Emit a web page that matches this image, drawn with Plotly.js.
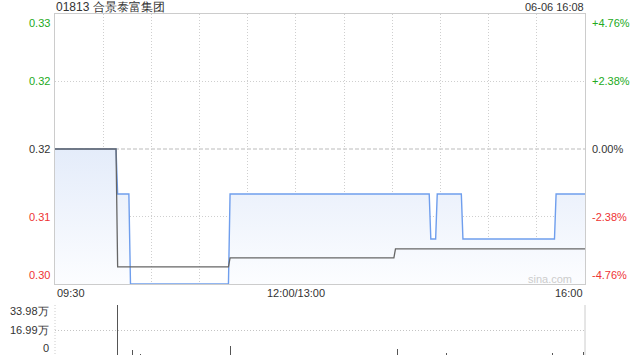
<!DOCTYPE html>
<html>
<head>
<meta charset="utf-8">
<script src="https://cdn.plot.ly/plotly-3.0.1.min.js"></script>
<style>html,body{margin:0;padding:0;background:#fff;}#chart{width:640px;height:360px;}</style>
</head>
<body>
<div id="chart"></div>
<script>
// ---- data (trading minutes since 09:30, lunch break removed) ----
const titleText = '01813 合景泰富集团';
const stampText = '06-06 16:08';
const prevClose = 0.315;
const priceT = [0, 38, 39, 46, 47, 108, 109, 233, 234, 237, 238, 253, 254, 311, 312, 330];
const priceV = [0.315, 0.315, 0.31, 0.31, 0.30, 0.30, 0.31, 0.31, 0.305, 0.305, 0.31, 0.31, 0.305, 0.305, 0.31, 0.31];
const avgT = [0, 38, 39, 108, 109, 211, 212, 330];
const avgV = [0.315, 0.315, 0.3019, 0.3019, 0.3029, 0.3029, 0.3039, 0.3039];
const volT = [39, 48, 53, 109, 213, 244, 310, 329];
const volV = [339800, 34000, 7000, 61000, 41000, 14000, 14000, 20000];
const xTickPos = [0, 150, 330];
const xTickText = ['09:30', '12:00/13:00', '16:00'];
const xGridPos = [30, 60, 90, 120, 150, 180, 210, 240, 270, 300];
const yTickVals = [0.33, 0.3225, 0.315, 0.3075, 0.30];
const yTickText = ['0.33', '0.32', '0.32', '0.31', '0.30'];
const pctText = ['+4.76%', '+2.38%', '0.00%', '-2.38%', '-4.76%'];
const volTickVals = [339800, 169900, 0];
const volTickText = ['33.98万', '16.99万', '0'];

const W = 640, H = 360;
const PL = 55, PR = 585, PT = 14, PB = 284, VT = 305, VB = 355;
const px = v => v / W, py = v => 1 - v / H;
const GREEN = '#22aa22', RED = '#ee3333', DARK = '#333333';
const FONT = 'Liberation Sans, Arial, sans-serif';

const traces = [
  {x: [0, 330], y: [0.30, 0.30], mode: 'lines', line: {width: 0, color: 'rgba(0,0,0,0)'},
   xaxis: 'x', yaxis: 'y', hoverinfo: 'skip', showlegend: false},
  {x: priceT, y: priceV, mode: 'lines', line: {width: 0, color: 'rgba(0,0,0,0)'},
   fill: 'tonexty', fillcolor: '#eef3fc',
   fillgradient: {type: 'vertical', start: 0.30, stop: 0.315,
     colorscale: [[0, 'rgba(252,253,255,1)'], [1, 'rgba(228,236,250,1)']]},
   xaxis: 'x', yaxis: 'y', hoverinfo: 'skip', showlegend: false},
  {x: priceT, y: priceV, mode: 'lines', line: {width: 1.4, color: '#6f9eed'},
   cliponaxis: false, xaxis: 'x', yaxis: 'y', showlegend: false},
  {x: avgT, y: avgV, mode: 'lines', line: {width: 1.3, color: '#666666'},
   cliponaxis: false, xaxis: 'x', yaxis: 'y', showlegend: false},
  {x: volT, y: volV, type: 'bar', width: 0.6, marker: {color: '#555555', line: {width: 0}},
   xaxis: 'x2', yaxis: 'y2', showlegend: false}
];

const annotations = [];
function ann(text, x, y, xanchor, yanchor, color, size, xref, yref) {
  annotations.push({text: text, x: x, y: y, xref: xref || 'paper', yref: yref || 'paper',
    xanchor: xanchor, yanchor: yanchor, showarrow: false,
    font: {family: FONT, size: size || 11, color: color || DARK}, borderpad: 0});
}
ann(titleText, px(PL), py(7), 'left', 'middle', DARK, 12);
ann(stampText, px(PR), py(7), 'right', 'middle', DARK, 11);
yTickVals.forEach((v, i) => {
  const ya = i === 0 ? 'top' : (i === yTickVals.length - 1 ? 'bottom' : 'middle');
  const col = v > prevClose ? GREEN : (v < prevClose ? RED : DARK);
  const yy = i === 0 ? py(PT + 1) : (i === yTickVals.length - 1 ? py(PB - 1) : null);
  annotations.push({text: yTickText[i], x: px(PL - 3), y: yy === null ? v : yy,
    xref: 'paper', yref: yy === null ? 'y' : 'paper', xanchor: 'right', yanchor: ya, showarrow: false,
    font: {family: FONT, size: 11, color: col}});
  annotations.push({text: pctText[i], x: px(PR + 5), y: yy === null ? v : yy,
    xref: 'paper', yref: yy === null ? 'y' : 'paper', xanchor: 'left', yanchor: ya, showarrow: false,
    font: {family: FONT, size: 11, color: col}});
});
xTickPos.forEach((v, i) => {
  const xa = i === 0 ? 'left' : (i === xTickPos.length - 1 ? 'right' : 'center');
  annotations.push({text: xTickText[i], x: v, y: py(293), xref: 'x', yref: 'paper',
    xanchor: xa, yanchor: 'middle', showarrow: false, font: {family: FONT, size: 11, color: DARK}});
});
volTickVals.forEach((v, i) => {
  const yy = i === 0 ? py(VT + 6) : (i === 1 ? py(329.5) : py(VB - 7));
  ann(volTickText[i], px(PL - 5), yy, 'right', 'middle', DARK, 11);
});
ann('sina.com', px(573), py(279), 'right', 'middle', '#cccccc', 11);

const shapes = [
  {type: 'line', xref: 'paper', yref: 'y', x0: px(PL), x1: px(PR), y0: prevClose, y1: prevClose,
   line: {color: '#bbbbbb', width: 1, dash: '4px,2px'}, layer: 'below'},
  {type: 'line', xref: 'paper', yref: 'paper', x0: px(PR), x1: px(PR), y0: py(VT), y1: py(VB),
   line: {color: '#cccccc', width: 1}},
  {type: 'line', xref: 'paper', yref: 'paper', x0: px(PL), x1: px(PL), y0: py(VT), y1: py(VB),
   line: {color: '#cccccc', width: 1, dash: '1px,2px'}}
];

const layout = {
  width: W, height: H, margin: {l: 0, r: 0, t: 0, b: 0},
  paper_bgcolor: '#ffffff', plot_bgcolor: '#ffffff', showlegend: false, bargap: 0,
  xaxis: {domain: [px(PL), px(PR)], range: [0, 330], tickvals: xGridPos, showticklabels: false,
    ticks: '', showgrid: true, gridcolor: '#cfcfcf', griddash: '1px,2px', gridwidth: 1,
    zeroline: false, showline: true, mirror: true, linecolor: '#cccccc', linewidth: 1,
    anchor: 'y', fixedrange: true},
  yaxis: {domain: [py(PB), py(PT)], range: [0.30, 0.33], tickvals: [0.3075, 0.3225],
    showticklabels: false, ticks: '', showgrid: true, gridcolor: '#cfcfcf', griddash: '1px,2px',
    zeroline: false, showline: true, mirror: true, linecolor: '#cccccc', linewidth: 1,
    anchor: 'x', fixedrange: true},
  xaxis2: {domain: [px(PL), px(PR)], range: [0, 330], showticklabels: false, ticks: '',
    showgrid: false, zeroline: false, showline: false, anchor: 'y2', fixedrange: true},
  yaxis2: {domain: [py(VB), py(VT)], range: [0, 339800], tickvals: volTickVals, showticklabels: false,
    ticks: '', showgrid: true, gridcolor: '#c4c4c4', griddash: '1px,2px', zeroline: false,
    showline: false, anchor: 'x2', fixedrange: true},
  annotations: annotations,
  shapes: shapes
};

Plotly.newPlot('chart', traces, layout, {staticPlot: true, displayModeBar: false});
</script>
</body>
</html>
